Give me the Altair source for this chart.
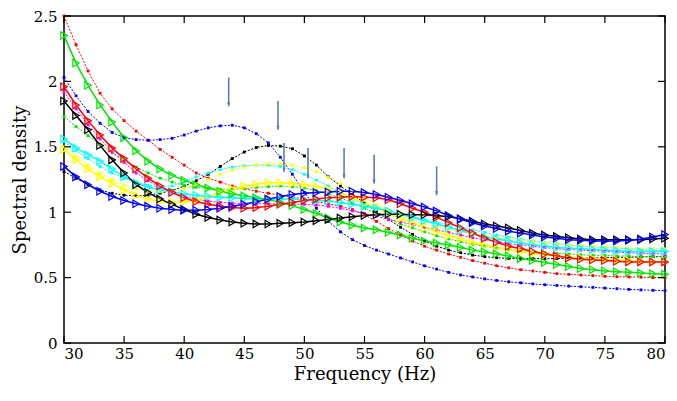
import altair as alt
import pandas as pd

freq = list(range(30, 81))

blue_dot = [2.03, 1.89, 1.77, 1.68, 1.61, 1.57, 1.555, 1.55, 1.555, 1.565,
            1.59, 1.62, 1.645, 1.66, 1.665, 1.645, 1.60, 1.53, 1.42, 1.29,
            1.15, 1.03, 0.93, 0.85, 0.79, 0.745, 0.71, 0.68, 0.65, 0.62,
            0.59, 0.565, 0.54, 0.52, 0.505, 0.49, 0.478, 0.468, 0.46, 0.452,
            0.445, 0.44, 0.435, 0.43, 0.425, 0.42, 0.415, 0.41, 0.406, 0.403,
            0.40]
red_dot = [2.50, 2.28, 2.08, 1.91, 1.79, 1.70, 1.62, 1.55, 1.48, 1.42,
           1.36, 1.30, 1.26, 1.23, 1.20, 1.18, 1.16, 1.145, 1.13, 1.115,
           1.10, 1.08, 1.065, 1.045, 1.02, 0.98, 0.93, 0.875, 0.825, 0.78,
           0.74, 0.71, 0.68, 0.655, 0.63, 0.61, 0.59, 0.575, 0.56, 0.55,
           0.54, 0.53, 0.525, 0.52, 0.515, 0.51, 0.507, 0.505, 0.503, 0.50,
           0.50]
black_dot = [1.31, 1.26, 1.21, 1.17, 1.145, 1.13, 1.125, 1.13, 1.145, 1.165,
             1.20, 1.24, 1.29, 1.35, 1.41, 1.46, 1.495, 1.51, 1.505, 1.485,
             1.43, 1.36, 1.27, 1.20, 1.135, 1.07, 1.005, 0.945, 0.885, 0.83,
             0.78, 0.74, 0.71, 0.69, 0.672, 0.66, 0.652, 0.647, 0.645, 0.645,
             0.645, 0.645, 0.648, 0.65, 0.65, 0.652, 0.655, 0.655, 0.658, 0.66,
             0.66]
green_dot = [1.73, 1.655, 1.585, 1.52, 1.455, 1.40, 1.345, 1.30, 1.26, 1.23,
             1.205, 1.19, 1.18, 1.175, 1.175, 1.18, 1.19, 1.195, 1.20, 1.195,
             1.185, 1.165, 1.14, 1.11, 1.07, 1.03, 0.99, 0.95, 0.91, 0.88,
             0.85, 0.82, 0.795, 0.775, 0.755, 0.74, 0.725, 0.715, 0.705, 0.695,
             0.69, 0.685, 0.68, 0.675, 0.67, 0.67, 0.665, 0.665, 0.66, 0.66,
             0.66]
cyan_dot = [1.54, 1.47, 1.41, 1.35, 1.30, 1.26, 1.23, 1.205, 1.195, 1.20,
            1.23, 1.27, 1.30, 1.325, 1.345, 1.355, 1.36, 1.36, 1.35, 1.325,
            1.29, 1.245, 1.20, 1.15, 1.10, 1.06, 1.03, 1.005, 0.985, 0.965,
            0.945, 0.925, 0.905, 0.885, 0.865, 0.845, 0.825, 0.81, 0.795, 0.78,
            0.77, 0.76, 0.75, 0.74, 0.735, 0.73, 0.725, 0.72, 0.715, 0.71,
            0.71]
yellow_dot = [1.50, 1.43, 1.36, 1.30, 1.25, 1.21, 1.18, 1.16, 1.155, 1.16,
              1.18, 1.21, 1.25, 1.29, 1.32, 1.345, 1.36, 1.37, 1.37, 1.36,
              1.34, 1.31, 1.265, 1.22, 1.17, 1.11, 1.06, 1.015, 0.97, 0.94,
              0.915, 0.89, 0.87, 0.85, 0.835, 0.82, 0.805, 0.795, 0.785, 0.775,
              0.765, 0.755, 0.75, 0.745, 0.74, 0.735, 0.73, 0.725, 0.72, 0.72,
              0.72]
magenta_dot = [1.92, 1.79, 1.67, 1.56, 1.46, 1.38, 1.30, 1.24, 1.19, 1.15,
               1.12, 1.10, 1.085, 1.075, 1.07, 1.065, 1.065, 1.065, 1.065, 1.06,
               1.06, 1.055, 1.045, 1.03, 1.01, 0.99, 0.97, 0.945, 0.925, 0.905,
               0.885, 0.865, 0.845, 0.825, 0.805, 0.79, 0.775, 0.76, 0.75, 0.74,
               0.73, 0.72, 0.715, 0.71, 0.705, 0.70, 0.695, 0.69, 0.685, 0.685,
               0.68]

red_tri = [1.96, 1.82, 1.70, 1.59, 1.49, 1.41, 1.33, 1.26, 1.20, 1.15,
           1.11, 1.08, 1.06, 1.045, 1.035, 1.03, 1.035, 1.045, 1.06, 1.075,
           1.09, 1.10, 1.11, 1.115, 1.12, 1.115, 1.11, 1.095, 1.065, 1.03,
           1.00, 0.96, 0.92, 0.88, 0.84, 0.80, 0.77, 0.74, 0.72, 0.70,
           0.68, 0.665, 0.65, 0.64, 0.635, 0.63, 0.625, 0.62, 0.62, 0.62,
           0.62]
green_tri = [2.35, 2.14, 1.97, 1.82, 1.69, 1.57, 1.47, 1.39, 1.33, 1.28,
             1.245, 1.21, 1.185, 1.16, 1.14, 1.125, 1.11, 1.095, 1.075, 1.05,
             1.02, 0.99, 0.955, 0.925, 0.90, 0.88, 0.865, 0.845, 0.825, 0.80,
             0.78, 0.765, 0.75, 0.73, 0.71, 0.695, 0.68, 0.665, 0.645, 0.63,
             0.615, 0.60, 0.585, 0.57, 0.56, 0.55, 0.545, 0.54, 0.535, 0.53,
             0.525]
blue_tri = [1.35, 1.27, 1.21, 1.16, 1.12, 1.09, 1.065, 1.045, 1.03, 1.02,
            1.015, 1.015, 1.02, 1.03, 1.045, 1.06, 1.08, 1.10, 1.12, 1.135,
            1.145, 1.15, 1.155, 1.16, 1.16, 1.15, 1.135, 1.115, 1.09, 1.065,
            1.04, 1.01, 0.975, 0.945, 0.92, 0.895, 0.875, 0.855, 0.84, 0.825,
            0.81, 0.80, 0.79, 0.785, 0.78, 0.78, 0.78, 0.785, 0.795, 0.81,
            0.83]
black_tri = [1.85, 1.74, 1.63, 1.51, 1.40, 1.30, 1.21, 1.15, 1.10, 1.06,
             1.02, 0.985, 0.96, 0.94, 0.925, 0.915, 0.91, 0.91, 0.915, 0.92,
             0.925, 0.935, 0.945, 0.955, 0.965, 0.975, 0.98, 0.985, 0.985, 0.98,
             0.98, 0.975, 0.965, 0.95, 0.93, 0.91, 0.895, 0.88, 0.86, 0.84,
             0.825, 0.815, 0.805, 0.795, 0.79, 0.79, 0.79, 0.79, 0.79, 0.795,
             0.80]
cyan_tri = [1.56, 1.49, 1.44, 1.39, 1.33, 1.27, 1.225, 1.19, 1.17, 1.155,
            1.14, 1.13, 1.12, 1.115, 1.11, 1.105, 1.10, 1.10, 1.10, 1.10,
            1.095, 1.09, 1.085, 1.075, 1.06, 1.045, 1.03, 1.01, 0.985, 0.96,
            0.935, 0.91, 0.885, 0.86, 0.835, 0.81, 0.795, 0.78, 0.765, 0.75,
            0.74, 0.73, 0.725, 0.72, 0.715, 0.71, 0.705, 0.70, 0.70, 0.70,
            0.70]
yellow_tri = [1.48, 1.40, 1.33, 1.27, 1.22, 1.17, 1.13, 1.10, 1.08, 1.075,
              1.08, 1.095, 1.12, 1.15, 1.18, 1.20, 1.215, 1.225, 1.225, 1.22,
              1.21, 1.195, 1.175, 1.145, 1.11, 1.07, 1.03, 0.99, 0.95, 0.915,
              0.88, 0.85, 0.82, 0.795, 0.77, 0.75, 0.73, 0.715, 0.70, 0.685,
              0.675, 0.665, 0.655, 0.65, 0.645, 0.64, 0.635, 0.63, 0.625, 0.62,
              0.62]

# arrows: frequency, top value, tip value
arrow_f = [43.7, 47.8, 48.3, 50.3, 53.3, 55.8, 61.0]
arrow_top = [2.03, 1.85, 1.53, 1.49, 1.49, 1.44, 1.35]
arrow_tip = [1.81, 1.63, 1.31, 1.26, 1.26, 1.22, 1.13]

x_ticks = [30, 35, 40, 45, 50, 55, 60, 65, 70, 75, 80]
y_ticks = [0, 0.5, 1, 1.5, 2, 2.5]

dot_series = [("red_dot", red_dot, "#ff0000"), ("blue_dot", blue_dot, "#0000ff"),
              ("black_dot", black_dot, "#000000"), ("green_dot", green_dot, "#00e600"),
              ("cyan_dot", cyan_dot, "#00ffff"), ("yellow_dot", yellow_dot, "#ffff00"),
              ("magenta_dot", magenta_dot, "#ff00ff")]
tri_series = [("yellow_tri", yellow_tri, "#ffff00"), ("cyan_tri", cyan_tri, "#00ffff"),
              ("green_tri", green_tri, "#00e600"), ("red_tri", red_tri, "#ff0000"),
              ("black_tri", black_tri, "#000000"), ("blue_tri", blue_tri, "#0000ff")]

rows = []
for kind, group in (("dot", dot_series), ("tri", tri_series)):
    for name, vals, col in group:
        assert len(vals) == len(freq), name
        for f, v in zip(freq, vals):
            rows.append({"f": f, "v": v, "series": name, "kind": kind})
df = pd.DataFrame(rows)

names = [s[0] for s in dot_series + tri_series]
cols = [s[2] for s in dot_series + tri_series]

FONT = "DejaVu Serif"
W, H = 601, 327
xs = alt.Scale(domain=[30, 80], nice=False)
ys = alt.Scale(domain=[0, 2.5], nice=False)
cs = alt.Scale(domain=names, range=cols)

X = alt.X("f:Q", scale=xs, axis=alt.Axis(
    values=x_ticks, title="Frequency (Hz)", ticks=False, domain=False, grid=False,
    labelPadding=3, titlePadding=4, labelFont=FONT, titleFont=FONT, labelFontSize=15,
    titleFontSize=18, titleFontWeight="normal", labelColor="black", titleColor="black"))
Y = alt.Y("v:Q", scale=ys, axis=alt.Axis(
    values=y_ticks, title="Spectral density", ticks=False, domain=False, grid=False,
    format="~g", labelPadding=7, titlePadding=4, labelFont=FONT, titleFont=FONT,
    labelFontSize=15, titleFontSize=18, titleFontWeight="normal", labelColor="black",
    titleColor="black"))
C = alt.Color("series:N", scale=cs, legend=None)

base = alt.Chart(df)
dot_lines = base.transform_filter("datum.kind == 'dot'").mark_line(
    strokeWidth=1, strokeDash=[2, 1.5]).encode(x=X, y=Y, color=C, detail="series:N")
dot_pts = base.transform_filter("datum.kind == 'dot'").mark_point(
    shape="square", filled=True, size=8, opacity=1).encode(x=X, y=Y, color=C)
tri_lines = base.transform_filter("datum.kind == 'tri'").mark_line(
    strokeWidth=1.5).encode(x=X, y=Y, color=C, detail="series:N")
tri_pts = base.transform_filter("datum.kind == 'tri'").mark_point(
    shape="triangle-right", filled=False, size=55, strokeWidth=1.2, opacity=1).encode(
    x=X, y=Y, color=C)

adf = pd.DataFrame({"f": arrow_f, "v": arrow_top, "v2": arrow_tip})
arrow_col = "#5a80ad"
shafts = alt.Chart(adf).mark_rule(color=arrow_col, strokeWidth=1.6).encode(
    x=alt.X("f:Q", scale=xs), y=alt.Y("v:Q", scale=ys), y2="v2:Q")
heads = alt.Chart(adf).mark_point(
    shape="M-0.8,-2L0.8,-2L0,0Z", filled=True, size=16, color=arrow_col, opacity=1).encode(
    x=alt.X("f:Q", scale=xs), y=alt.Y("v2:Q", scale=ys))

xt = pd.DataFrame({"f": x_ticks})
yt = pd.DataFrame({"v": y_ticks})
tick_b = alt.Chart(xt).mark_rule(color="black", strokeWidth=1.2).encode(
    x=alt.X("f:Q", scale=xs), y=alt.value(H), y2=alt.value(H - 7))
tick_t = alt.Chart(xt).mark_rule(color="black", strokeWidth=1.2).encode(
    x=alt.X("f:Q", scale=xs), y=alt.value(0), y2=alt.value(7))
tick_l = alt.Chart(yt).mark_rule(color="black", strokeWidth=1.2).encode(
    y=alt.Y("v:Q", scale=ys), x=alt.value(0), x2=alt.value(7))
tick_r = alt.Chart(yt).mark_rule(color="black", strokeWidth=1.2).encode(
    y=alt.Y("v:Q", scale=ys), x=alt.value(W), x2=alt.value(W - 7))

chart = alt.layer(dot_lines, tri_lines, dot_pts, tri_pts, shafts, heads,
                  tick_b, tick_t, tick_l, tick_r).properties(
    width=W, height=H,
    autosize=alt.AutoSizeParams(type="none"),
    padding={"left": 56, "top": 8, "right": 4, "bottom": 50},
).configure(font=FONT).configure_view(stroke="black", strokeWidth=1.5)

chart.save("out.html", embed_options={"renderer": "svg", "actions": False})
